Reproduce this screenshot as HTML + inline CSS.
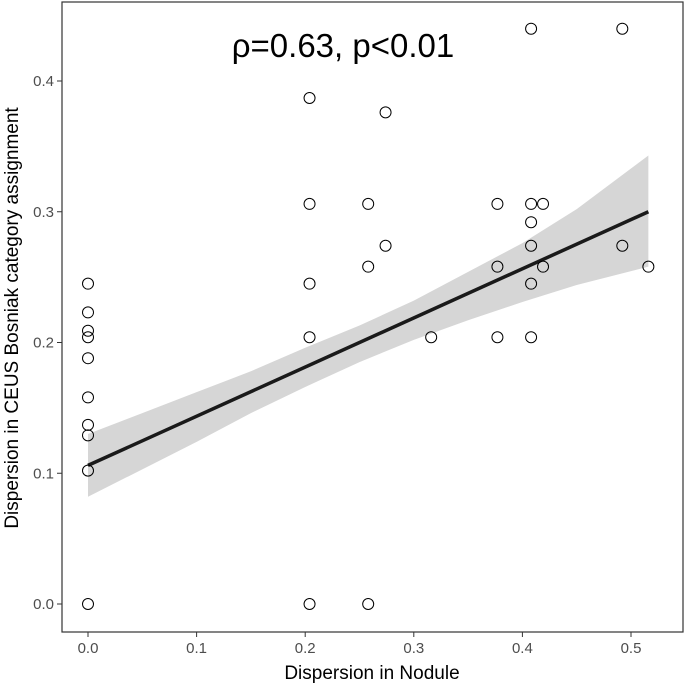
<!DOCTYPE html>
<html><head><meta charset="utf-8"><style>
body{margin:0;background:#fff;font-family:"Liberation Sans",sans-serif}
</style></head><body>
<svg id="chart" width="685" height="685" xmlns="http://www.w3.org/2000/svg"></svg>
<script>
const xs=[0,0,0,0,0,0,0,0,0,0,0.204,0.204,0.204,0.204,0.204,0.258,0.258,0.258,0.274,0.274,0.316,0.377,0.377,0.377,0.408,0.408,0.408,0.408,0.408,0.408,0.419,0.419,0.492,0.492,0.516];
const ys=[0.245,0.223,0.209,0.204,0.188,0.158,0.137,0.129,0.102,0.0,0.387,0.306,0.245,0.204,0.0,0.306,0.258,0.0,0.376,0.274,0.204,0.306,0.258,0.204,0.44,0.306,0.292,0.274,0.245,0.204,0.306,0.258,0.44,0.274,0.258];
const fitX=[0,0.516];
const fitY=[0.106,0.300];
const bandX=[0,0.05,0.1,0.15,0.2,0.25,0.3,0.35,0.4,0.45,0.516];
const bandLo=[0.082,0.103,0.124,0.146,0.166,0.185,0.202,0.217,0.231,0.244,0.258];
const bandHi=[0.130,0.146,0.162,0.178,0.196,0.213,0.232,0.254,0.276,0.302,0.343];
const xTicks=[0,0.1,0.2,0.3,0.4,0.5];
const yTicks=[0,0.1,0.2,0.3,0.4];
const X=v=>88+v*1086;
const Y=v=>604-v*1307.5;
const svg=document.getElementById('chart');
const NS='http://www.w3.org/2000/svg';
function mk(t,a,p){const e=document.createElementNS(NS,t);for(const k in a)e.setAttribute(k,a[k]);(p||svg).appendChild(e);return e;}
let d='M'+bandX.map((x,i)=>X(x)+','+Y(bandHi[i])).join('L')+'L'+bandX.slice().reverse().map((x,i)=>X(x)+','+Y(bandLo[bandLo.length-1-i])).join('L')+'Z';
const band=mk('path',{d:d,fill:'#d6d6d6'});


const fl=mk('line',{x1:X(fitX[0]),y1:Y(fitY[0]),x2:X(fitX[1]),y2:Y(fitY[1]),stroke:'#1a1a1a','stroke-width':3.5});


xs.forEach((x,i)=>{const c=mk('circle',{cx:X(x),cy:Y(ys[i]),r:5.5,fill:'none',stroke:'#000','stroke-width':1});

});
const fr=mk('rect',{x:62,y:2,width:621,height:630,fill:'none',stroke:'#333','stroke-width':1.2});


xTicks.forEach(v=>{mk('line',{x1:X(v),x2:X(v),y1:632,y2:637,stroke:'#333'});
const t=mk('text',{x:X(v),y:653,'text-anchor':'middle','font-size':15,fill:'#4d4d4d'});t.textContent=v.toFixed(1);

});
yTicks.forEach(v=>{mk('line',{x1:57,x2:62,y1:Y(v),y2:Y(v),stroke:'#333'});
const t=mk('text',{x:54,y:Y(v)+5,'text-anchor':'end','font-size':15,fill:'#4d4d4d'});t.textContent=v.toFixed(1);

});
const xt=mk('text',{x:372,y:679,'text-anchor':'middle','font-size':19,fill:'#000'});xt.textContent='Dispersion in Nodule';


const yt=mk('text',{x:0,y:0,'text-anchor':'middle','font-size':19,fill:'#000',transform:'translate(18,318) rotate(-90)'});yt.textContent='Dispersion in CEUS Bosniak category assignment';


const an=mk('text',{x:343,y:57,'text-anchor':'middle','font-size':33,fill:'#000'});an.textContent='ρ=0.63, p<0.01';


</script>
</body></html>
